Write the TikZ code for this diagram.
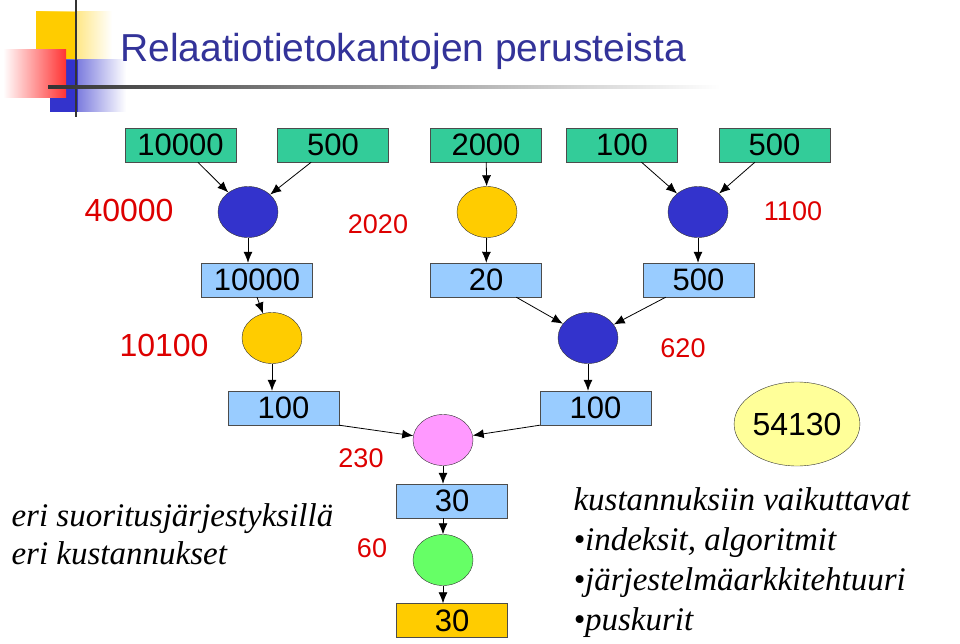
\documentclass[tikz,border=0pt]{standalone}
\usepackage{fontspec}
\usetikzlibrary{shapes.geometric,arrows.meta}
\setmainfont{Liberation Sans}
\newfontfamily\serifit{Liberation Serif}
\definecolor{tgreen}{RGB}{51,204,153}
\definecolor{lblue}{RGB}{153,204,255}
\definecolor{dblue}{RGB}{51,51,204}
\definecolor{gold}{RGB}{255,204,0}
\definecolor{pinkc}{RGB}{255,153,255}
\definecolor{lgreen}{RGB}{102,255,102}
\definecolor{lyel}{RGB}{255,255,153}
\definecolor{navy}{RGB}{51,51,153}
\definecolor{rred}{RGB}{221,0,0}
\begin{document}
\begin{tikzpicture}[x=1pt,y=-1pt,
 box/.style={draw=black!70,minimum width=111pt,minimum height=34pt,inner sep=0pt,font=\fontsize{31}{31}\selectfont},
 circ/.style={draw=black!80,ellipse,minimum width=60pt,minimum height=51pt,inner sep=0pt},
 lab/.style={text=rred,font=\fontsize{32}{32}\selectfont},
 slab/.style={text=rred,font=\fontsize{27}{27}\selectfont},
 arr/.style={-{Latex[length=11pt,width=9pt]},black,line width=0.8pt},
 it/.style={font=\serifit\itshape\fontsize{33}{38}\selectfont,anchor=west,align=left}]
\useasboundingbox (0,0) rectangle (960,644);
% logo
\shade[left color=gold,right color=white] (36,12) rectangle (112,60);
\fill[gold] (36,12) rectangle (76,60);
\shade[left color=dblue,right color=white] (50,60) rectangle (126,112);
\fill[dblue] (50,60) rectangle (78,112);
\shade[left color=white,right color=red!80] (3,50) rectangle (66,98);
\draw[line width=2.5pt,black!80] (76,0) -- (76,117);
\shade[left color=black!80,right color=white] (48,86) rectangle (720,88.5);
\node[anchor=base west,text=navy,font=\fontsize{39}{39}\selectfont,inner sep=0pt] (title) at (120,62) {Relaatiotietokantojen perusteista};
% row1
\node[box,fill=tgreen] (a1) at (180.5,145) {10000};
\node[box,fill=tgreen] (a2) at (333,145) {500};
\node[box,fill=tgreen] (a3) at (486,145) {2000};
\node[box,fill=tgreen] (a4) at (622,145) {100};
\node[box,fill=tgreen] (a5) at (774.5,145) {500};
\node[circ,fill=dblue] (c1) at (248,212) {};
\node[circ,fill=gold] (c2) at (487,212) {};
\node[circ,fill=dblue] (c3) at (698,212) {};
\draw[arr] (a1) -- (c1);
\draw[arr] (a2) -- (c1);
\draw[arr] (a3) -- (c2);
\draw[arr] (a4) -- (c3);
\draw[arr] (a5) -- (c3);
% row2
\node[box,fill=lblue] (b1) at (257,280) {10000};
\node[box,fill=lblue] (b2) at (486,280) {20};
\node[box,fill=lblue] (b3) at (698.5,280) {500};
\draw[arr] (c1) -- (c1|-b1.north);
\draw[arr] (c2) -- (b2);
\draw[arr] (c3) -- (c3|-b3.north);
\node[circ,fill=gold] (d1) at (272,338) {};
\node[circ,fill=dblue] (d2) at (588,338) {};
\draw[arr] (b1.south-|d1) ++(-15,0) coordinate (s1) -- (d1);
\draw[arr] (b2) -- (d2);
\draw[arr] (b3) -- (d2);
% row3
\node[box,fill=lblue] (e1) at (283.5,408) {100};
\node[box,fill=lblue] (e2) at (595.5,408) {100};
\draw[arr] (d1) -- (d1|-e1.north);
\draw[arr] (d2) -- (d2|-e2.north);
\node[circ,fill=pinkc] (p) at (443,440) {};
\draw[arr] (e1.south east) -- (p);
\draw[arr] (e2.south west) -- (p);
\node[box,fill=lblue] (f1) at (452,501) {30};
\draw[arr] (p) -- (p|-f1.north);
\node[circ,fill=lgreen] (g) at (443,560) {};
\draw[arr] (f1.south-|g) -- (g);
\node[box,fill=gold] (h) at (452,620.5) {30};
\draw[arr] (g) -- (g|-h.north);
\node[draw=black!80,ellipse,fill=lyel,minimum width=100pt,minimum height=84pt,font=\fontsize{32}{32}\selectfont,inner sep=0pt] (t) at (797,424) {54130};
% labels
\node[lab] (l1) at (129,210) {40000};
\node[lab] (l2) at (164,345) {10100};
\node[slab] (l3) at (378,224) {2020};
\node[slab] (l4) at (793,211) {1100};
\node[slab] (l5) at (683,348) {620};
\node[slab] (l6) at (361,458) {230};
\node[slab] (l7) at (372,548) {60};
\node[it] (n1) at (8,534) {eri suoritusjärjestyksillä\\eri kustannukset};
\node[it,font=\serifit\itshape\fontsize{33}{40}\selectfont] (n2) at (570,563) {kustannuksiin vaikuttavat\\\textbullet indeksit, algoritmit\\\textbullet järjestelmäarkkitehtuuri\\\textbullet puskurit};
\end{tikzpicture}
\end{document}
